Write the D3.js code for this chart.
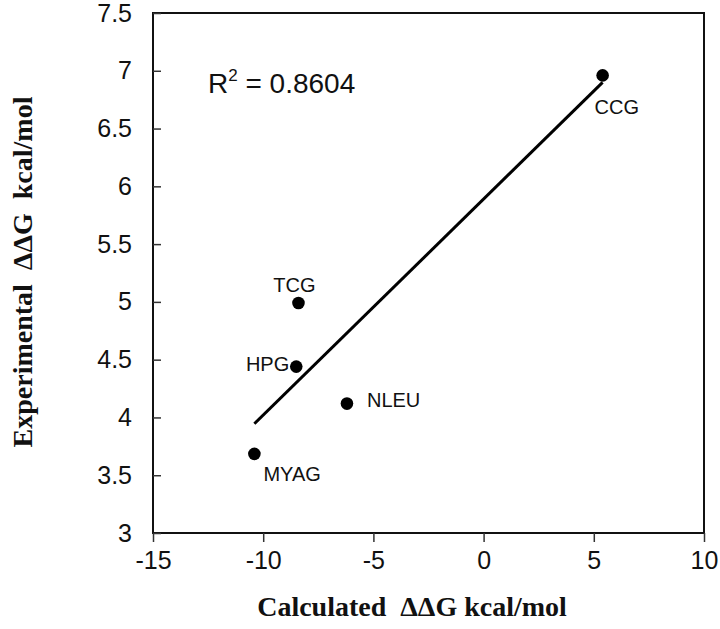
<!DOCTYPE html>
<html>
<head>
<meta charset="utf-8">
<script src="https://cdn.jsdelivr.net/npm/d3@7"></script>
<style>
  body { margin: 0; background: #fff; }
  svg { display: block; }
</style>
</head>
<body>
<div id="chart"></div>
<script>
// data
const names = ["CCG", "TCG", "HPG", "NLEU", "MYAG"];
const calcDDG = [5.4, -8.4, -8.5, -6.2, -10.4];
const expDDG = [6.96, 4.99, 4.44, 4.12, 3.685];
const xTicks = [-15, -10, -5, 0, 5, 10];
const yTicks = [3, 3.5, 4, 4.5, 5, 5.5, 6, 6.5, 7, 7.5];
const r2Text = "0.8604";

// label placement relative to the point
const labelPos = {
    CCG: { dx: -8, dy: 39, anchor: "start" },
    TCG: { dx: -4, dy: -11, anchor: "middle" },
    HPG: { dx: -7, dy: 4, anchor: "end" },
    NLEU: { dx: 20, dy: 3, anchor: "start" },
    MYAG: { dx: 9, dy: 27, anchor: "start" }
};

const width = 720;
const height = 629;
const margin = { top: 13, right: 16, bottom: 96, left: 153 };
const sans = "Liberation Sans, Arial, sans-serif";
const serif = "Liberation Serif, Times New Roman, serif";

const svg = d3.select("#chart")
    .append("svg")
    .attr("width", width)
    .attr("height", height)
    .attr("viewBox", [0, 0, width, height]);

svg.append("rect").attr("width", width).attr("height", height).attr("fill", "#fff");

const x = d3.scaleLinear().domain([-15, 10]).range([margin.left, width - margin.right]);
const y = d3.scaleLinear().domain([3, 7.5]).range([height - margin.bottom, margin.top]);

// frame
svg.append("rect")
    .attr("x", x(-15))
    .attr("y", y(7.5))
    .attr("width", x(10) - x(-15))
    .attr("height", y(3) - y(7.5))
    .attr("fill", "none")
    .attr("stroke", "#111")
    .attr("stroke-width", 2);

// x axis, ticks outward
const xAxis = svg.append("g")
    .attr("transform", `translate(0,${y(3)})`)
    .call(d3.axisBottom(x).tickValues(xTicks).tickSize(9).tickPadding(9).tickFormat(d => String(d)));
xAxis.select(".domain").remove();
xAxis.selectAll("line").attr("stroke", "#333").attr("stroke-width", 1.5);
xAxis.selectAll("text")
    .attr("fill", "#111")
    .style("font-family", sans)
    .style("font-size", "25px");

// y axis, ticks inward
const yAxis = svg.append("g")
    .attr("transform", `translate(${x(-15)},0)`)
    .call(d3.axisLeft(y).tickValues(yTicks).tickSize(-8).tickPadding(21).tickFormat(d => String(d)));
yAxis.select(".domain").remove();
yAxis.selectAll("line").attr("stroke", "#333").attr("stroke-width", 1.5);
yAxis.selectAll("text")
    .attr("fill", "#111")
    .style("font-family", sans)
    .style("font-size", "25px");

// least squares fit
const pts = names.map((n, i) => ({ name: n, x: calcDDG[i], y: expDDG[i] }));
const mx = d3.mean(pts, d => d.x);
const my = d3.mean(pts, d => d.y);
const slope = d3.sum(pts, d => (d.x - mx) * (d.y - my)) / d3.sum(pts, d => (d.x - mx) ** 2);
const icpt = my - slope * mx;
const [x0, x1] = d3.extent(calcDDG);

svg.append("line")
    .attr("x1", x(x0)).attr("y1", y(icpt + slope * x0))
    .attr("x2", x(x1)).attr("y2", y(icpt + slope * x1))
    .attr("stroke", "#000")
    .attr("stroke-width", 3);

// points
svg.append("g")
    .selectAll("circle")
    .data(pts)
    .join("circle")
    .attr("cx", d => x(d.x))
    .attr("cy", d => y(d.y))
    .attr("r", 6.3)
    .attr("fill", "#000");

svg.append("g")
    .selectAll("text")
    .data(pts)
    .join("text")
    .attr("x", d => x(d.x) + labelPos[d.name].dx)
    .attr("y", d => y(d.y) + labelPos[d.name].dy)
    .attr("text-anchor", d => labelPos[d.name].anchor)
    .style("font-family", sans)
    .style("font-size", "20px")
    .attr("fill", "#111")
    .text(d => d.name);

// R^2
const r2 = svg.append("text")
    .attr("x", 208)
    .attr("y", 93)
    .style("font-family", sans)
    .style("font-size", "28px")
    .attr("fill", "#111");
r2.append("tspan").text("R");
r2.append("tspan").attr("dy", -12).style("font-size", "17px").text("2");
r2.append("tspan").attr("dy", 12).text(" = " + r2Text);

// axis titles
svg.append("text")
    .attr("x", 412)
    .attr("y", 616)
    .attr("text-anchor", "middle")
    .style("font-family", serif)
    .style("font-weight", "bold")
    .style("font-size", "28px")
    .style("white-space", "pre")
    .attr("fill", "#111")
    .text("Calculated  \u0394\u0394G kcal/mol");

svg.append("text")
    .attr("transform", "translate(32,272) rotate(-90)")
    .attr("text-anchor", "middle")
    .style("font-family", serif)
    .style("font-weight", "bold")
    .style("font-size", "28px")
    .style("white-space", "pre")
    .attr("fill", "#111")
    .text("Experimental  \u0394\u0394G  kcal/mol");
</script>
</body>
</html>
